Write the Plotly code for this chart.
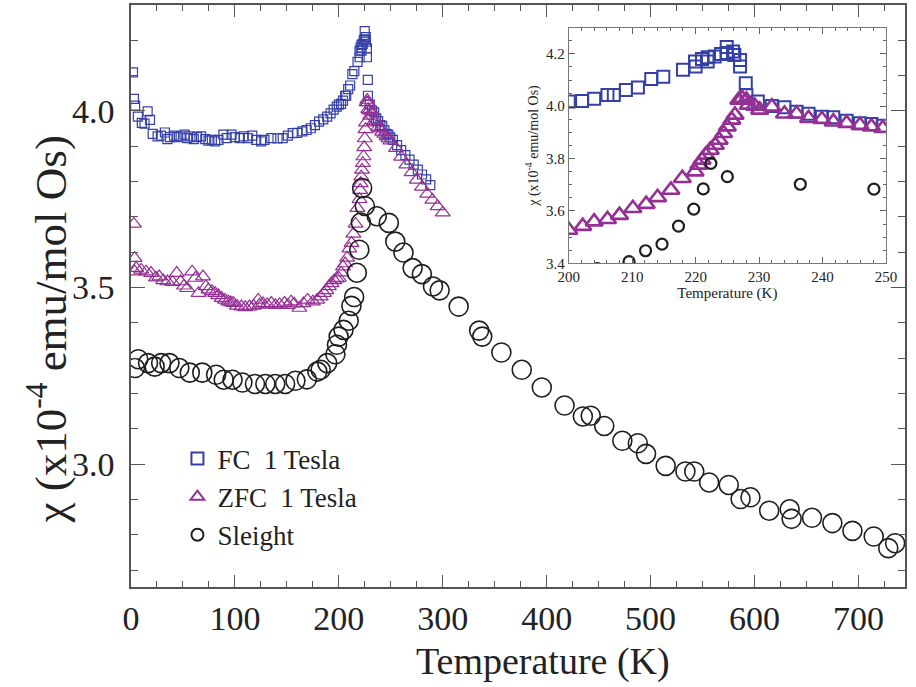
import plotly.graph_objects as go

# ---------------- data ----------------
fc_T = [1.9, 2.8, 4.0, 6.6, 10.4, 13.0, 16.0, 18.3, 20.9, 25.6,
        28.8, 32.6, 35.1, 37.6, 41.4, 44.6, 47.8, 51.5, 54.1, 57.2, 60.4, 63.6, 67.4, 71.5,
        74.6, 77.8, 81.0, 84.1, 88.9, 92.0, 96.8, 99.9, 104.7, 108.4, 112.6, 116.7, 120.5,
        125.2, 128.4, 135, 141, 146, 151, 155.6, 160, 165, 169, 173, 177, 181, 185, 188.8,
        192, 195, 198,
        200, 202.1, 204, 206.1, 207.1, 209, 210.9, 213, 214.9, 218, 219.9, 220, 221, 221.9,
        221.9, 223, 224, 224.9, 224.9, 225.9, 226.1, 227, 227, 227.9, 228, 229.8, 232, 234,
        235.9, 237.8, 239.9, 241.7, 243.8, 245.9, 247.7, 249.5,
        252, 256, 260, 264, 268, 272, 276, 280, 284, 288]
fc_chi = [4.109, 4.034, 4.015, 3.984, 3.966, 3.964, 3.999, 3.975, 3.935, 3.928,
          3.930, 3.939, 3.920, 3.926, 3.930, 3.926, 3.928, 3.933, 3.923, 3.928, 3.920, 3.926,
          3.928, 3.920, 3.916, 3.918, 3.914, 3.918, 3.933, 3.923, 3.933, 3.926, 3.923, 3.928,
          3.923, 3.930, 3.918, 3.914, 3.918, 3.923, 3.922, 3.923, 3.930, 3.937, 3.938, 3.942,
          3.946, 3.951, 3.960, 3.970, 3.976, 3.984, 3.993, 4.004, 4.012,
          4.018, 4.020, 4.029, 4.043, 4.043, 4.062, 4.072, 4.104, 4.113, 4.139, 4.171, 4.152,
          4.180, 4.187, 4.171, 4.190, 4.200, 4.226, 4.203, 4.209, 4.196, 4.177, 4.152, 4.088,
          4.043, 4.018, 4.001, 3.996, 3.979, 3.971, 3.960, 3.958, 3.945, 3.935, 3.932, 3.925,
          3.918, 3.903, 3.889, 3.875, 3.862, 3.848, 3.834, 3.820, 3.806, 3.790]

zfc_T = [2.8, 3.5, 3.5, 5.0, 9.8, 14.5, 19.3, 24, 27.2, 31, 35, 40, 44, 47.7, 51, 54, 58.8,
         62, 65, 69.3, 72, 74.6, 78, 81, 84, 87.3, 90.5, 93.6, 96, 98.4, 102, 106.3, 110, 114,
         118, 122.4, 123.6, 127, 131, 135, 139, 143, 147.7, 151, 154, 157, 162, 166, 170, 175,
         179, 182.5, 185.7, 188, 190.4, 193, 195.5, 198,
         200, 202.2, 204, 206.1, 208, 210.1, 212.2, 214, 216.1, 217.9, 219.9, 220.5, 221,
         221.6, 222.3, 223.1, 223.7, 224.4, 225, 225.7, 226.2, 226.8, 227.3, 228, 228.3, 229.3,
         230.1, 232, 234, 235.9, 237.8, 239.9, 241.7, 243.8, 245.9, 247.7, 249.5,
         255, 260, 265, 270, 275, 280, 285, 290, 295, 300]
zfc_chi = [3.680, 3.583, 3.545, 3.555, 3.550, 3.545, 3.541, 3.528, 3.531, 3.520, 3.517,
           3.515, 3.541, 3.517, 3.505, 3.498, 3.545, 3.527, 3.484, 3.531, 3.503, 3.494, 3.489,
           3.484, 3.478, 3.470, 3.465, 3.460, 3.458, 3.456, 3.448, 3.446, 3.444, 3.446, 3.448,
           3.465, 3.451, 3.455, 3.452, 3.456, 3.450, 3.452, 3.456, 3.450, 3.460, 3.454, 3.442,
           3.455, 3.465, 3.460, 3.465, 3.474, 3.484, 3.492, 3.503, 3.512, 3.520, 3.525,
           3.527, 3.542, 3.559, 3.568, 3.584, 3.610, 3.626, 3.652, 3.680, 3.725, 3.750, 3.776,
           3.795, 3.814, 3.833, 3.852, 3.871, 3.897, 3.922, 3.948, 3.967, 4.024, 4.031, 4.024,
           4.005, 4.001, 3.986, 3.998, 3.971, 3.971, 3.954, 3.950, 3.941, 3.935, 3.928, 3.922,
           3.916,
           3.895, 3.870, 3.848, 3.826, 3.805, 3.785, 3.765, 3.748, 3.730, 3.712]

sl_T = [3.8, 7, 16.4, 22.8, 29, 37, 46.5, 56.6, 68.6, 81.9, 89.2, 97.7, 107.2, 119.3, 129.3,
        138.8, 148.3, 158.2, 169.2, 179.3, 182.5, 188.8, 196.7, 198.2, 199.8, 204.5,
        209.5, 212.1, 214.7, 217.3, 219.7, 221.2, 222.4, 225, 236.5, 248.1,
        254.3, 262.2, 271, 279.9, 290.6, 297, 315.3, 335, 338, 356.4, 376, 395.3, 417.2,
        434.8, 442.4, 455.4, 472.8, 487.7, 495.6, 514.5, 533.5, 542, 556.3, 575.2, 586.6,
        596.1, 614.1, 633.8, 635.7, 655.3, 674.9, 694.2, 714.7, 728.7, 735.3]
sl_chi = [3.272, 3.297, 3.286, 3.276, 3.286, 3.286, 3.272, 3.259, 3.259, 3.253, 3.239, 3.239,
          3.231, 3.227, 3.227, 3.227, 3.227, 3.236, 3.240, 3.262, 3.267, 3.286, 3.311, 3.338,
          3.361, 3.380,
          3.406, 3.448, 3.473, 3.542, 3.607, 3.684, 3.782, 3.731, 3.702, 3.683,
          3.630, 3.599, 3.555, 3.538, 3.503, 3.492, 3.446, 3.378, 3.361, 3.316, 3.267, 3.217,
          3.166, 3.135, 3.137, 3.108, 3.066, 3.059, 3.029, 2.995, 2.979, 2.979, 2.948, 2.941,
          2.901, 2.906, 2.868, 2.872, 2.845, 2.848, 2.833, 2.811, 2.795, 2.762, 2.776]

legend_names = ["FC  1 Tesla", "ZFC  1 Tesla", "Sleight"]
main_xrange = [0, 744.8]
main_yrange = [2.652, 4.30]
inset_xrange = [200, 250]
inset_yrange = [3.4, 4.3]

# ---------------- style ----------------
BLUE = "#3440a6"
PURPLE = "#952f94"
BLACK = "#1e1e1e"
AX = "#555555"
FONT = "'Liberation Serif', 'Times New Roman', Times, serif"

fig = go.Figure()

# main traces
fig.add_trace(go.Scatter(x=fc_T, y=fc_chi, mode="markers", name=legend_names[0],
                         marker=dict(symbol="square-open", size=9, color=BLUE,
                                     line=dict(color=BLUE, width=1.2))))
fig.add_trace(go.Scatter(x=zfc_T, y=zfc_chi, mode="markers", name=legend_names[1],
                         marker=dict(symbol="triangle-up-open", size=13, color=PURPLE,
                                     line=dict(color=PURPLE, width=1.2))))
fig.add_trace(go.Scatter(x=sl_T, y=sl_chi, mode="markers", name=legend_names[2],
                         marker=dict(symbol="circle-open", size=19, color=BLACK,
                                     line=dict(color=BLACK, width=1.6))))

# inset traces
fig.add_trace(go.Scatter(x=fc_T, y=fc_chi, mode="markers", showlegend=False,
                         xaxis="x2", yaxis="y2",
                         marker=dict(symbol="square-open", size=12, color=BLUE,
                                     line=dict(color=BLUE, width=2))))
fig.add_trace(go.Scatter(x=zfc_T, y=zfc_chi, mode="markers", showlegend=False,
                         xaxis="x2", yaxis="y2",
                         marker=dict(symbol="triangle-up-open", size=15, color=PURPLE,
                                     line=dict(color=PURPLE, width=2.6))))
fig.add_trace(go.Scatter(x=sl_T, y=sl_chi, mode="markers", showlegend=False,
                         xaxis="x2", yaxis="y2",
                         marker=dict(symbol="circle-open", size=11, color=BLACK,
                                     line=dict(color=BLACK, width=2.2))))

main_axis_common = dict(showgrid=False, zeroline=False, showline=True, linecolor=AX,
                        linewidth=1.5, mirror="ticks", ticks="inside", tickcolor=AX,
                        tickwidth=1.3, tickfont=dict(family=FONT, size=34, color="#222"))
inset_axis_common = dict(showgrid=False, zeroline=False, showline=True, linecolor="#777",
                         linewidth=1, mirror="ticks", ticks="inside", tickcolor="#666",
                         tickwidth=1, tickfont=dict(family=FONT, size=15, color="#222"))

fig.update_layout(
    width=916, height=687,
    margin=dict(l=131, r=0, t=5, b=100),
    paper_bgcolor="white", plot_bgcolor="white",
    font=dict(family=FONT, color="#222"),
    xaxis=dict(range=main_xrange, tick0=0, dtick=100, ticklen=12,
               minor=dict(dtick=25, ticklen=6, ticks="inside", tickcolor=AX, tickwidth=1.2),
               domain=[0, 1], **main_axis_common),
    yaxis=dict(range=main_yrange, tick0=3.0, dtick=0.5, tickformat=".1f", ticklen=14,
               ticklabelstandoff=8,
               minor=dict(dtick=0.1, ticklen=7, ticks="inside", tickcolor=AX, tickwidth=1.2),
               domain=[0, 1], **main_axis_common),
    xaxis2=dict(range=inset_xrange, tick0=200, dtick=10, ticklen=6, anchor="y2",
                domain=[0.5656, 0.9754],
                minor=dict(dtick=2, ticklen=3, ticks="inside", tickcolor="#666"),
                title=dict(text="Temperature (K)", font=dict(family=FONT, size=15), standoff=2),
                **inset_axis_common),
    yaxis2=dict(range=inset_yrange, tick0=3.4, dtick=0.2, tickformat=".1f", ticklen=6,
                anchor="x2", domain=[0.5562, 0.961],
                minor=dict(dtick=0.05, ticklen=3, ticks="inside", tickcolor="#666"),
                title=dict(text="χ (x10<sup>-4</sup> emu/mol Os)",
                           font=dict(family=FONT, size=14), standoff=4),
                **inset_axis_common),
    legend=dict(x=0.06, y=0.262, xanchor="left", yanchor="top",
                bgcolor="rgba(0,0,0,0)", font=dict(family=FONT, size=27, color="#222"),
                itemsizing="constant", tracegroupgap=0),
    showlegend=True,
)

fig.add_annotation(text="Temperature (K)", xref="paper", yref="paper",
                   x=0.532, y=-0.128, showarrow=False, xanchor="center", yanchor="middle",
                   font=dict(family=FONT, size=38, color="#222"))
fig.add_annotation(text="χ (x10<sup>-4</sup> emu/mol Os)", xref="paper", yref="paper",
                   x=-0.108, y=0.443, showarrow=False, textangle=-90,
                   xanchor="center", yanchor="middle",
                   font=dict(family=FONT, size=45, color="#222"))

fig.write_html("out.html")
